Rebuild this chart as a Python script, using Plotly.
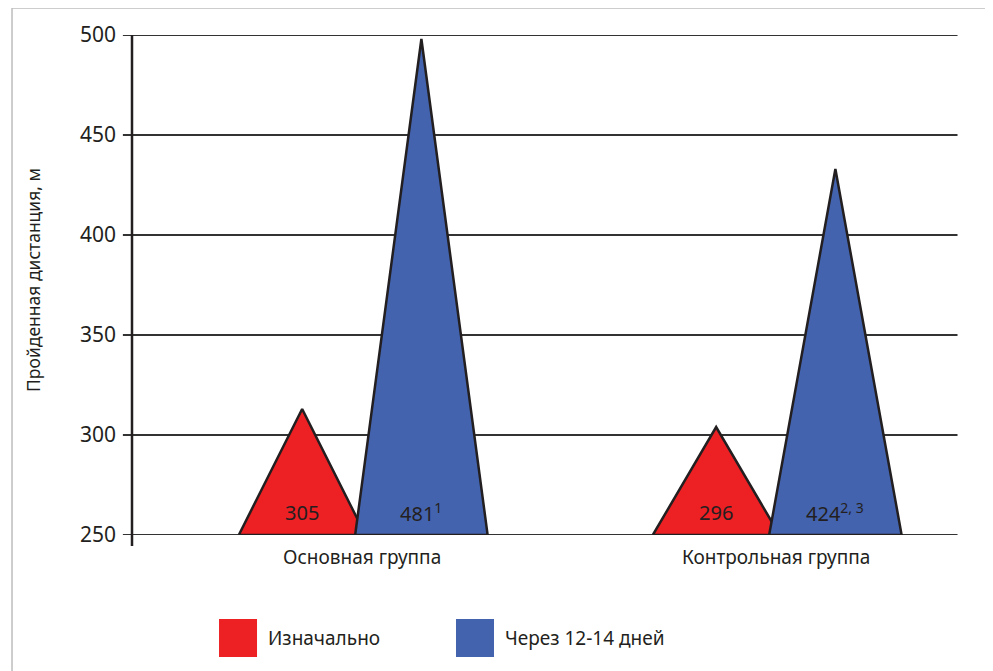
import plotly.graph_objects as go

# ---- data ----
categories = ["Основная группа", "Контрольная группа"]
series_names = ["Изначально", "Через 12-14 дней"]
# apex heights of the drawn triangles
initial_heights = [313, 304]
after_heights = [498, 433]
# printed values
initial_labels = ["305", "296"]
after_labels = ["481<sup>1</sup>", "424<sup>2, 3</sup>"]
y_ticks = [250, 300, 350, 400, 450, 500]

RED = "#ED2024"
BLUE = "#4363AE"
INK = "#231F20"
FONT = "Noto Sans"
BASE = 250

offsets = [-0.145, 0.143]
half_widths = [0.153, 0.160]

fig = go.Figure()

for gi, cat in enumerate(categories):
    for si, (heights, color) in enumerate([(initial_heights, RED), (after_heights, BLUE)]):
        c = gi + offsets[si]
        hw = half_widths[si]
        fig.add_trace(go.Scatter(
            x=[c - hw, c, c + hw, c - hw],
            y=[BASE, heights[gi], BASE, BASE],
            mode="lines", fill="toself", fillcolor=color,
            line=dict(color=INK, width=2.5),
            hoverinfo="skip", showlegend=False,
        ))

annotations = []
# value labels
for si, labels in enumerate([initial_labels, after_labels]):
    for gi, lab in enumerate(labels):
        annotations.append(dict(xref="x", yref="y", x=gi + offsets[si], y=261.5,
                                text=lab, showarrow=False, xanchor="center", yanchor="middle",
                                font=dict(family=FONT, size=20, color=INK)))

shapes = []
# frame
shapes.append(dict(type="rect", xref="paper", yref="paper",
                   x0=-0.1449, x1=1.0338, y0=-0.33, y1=1.054,
                   line=dict(color="#BDBDBD", width=1.5), layer="below"))
# y axis line (extends a bit below the base)
shapes.append(dict(type="line", xref="paper", yref="paper",
                   x0=0, x1=0, y0=-0.022, y1=1,
                   line=dict(color=INK, width=2.5)))
# gridlines incl. tick stubs
for t in y_ticks:
    shapes.append(dict(type="line", xref="paper", yref="y",
                       x0=-0.011, x1=0.997, y0=t, y1=t,
                       line=dict(color="#333333", width=2), layer="below"))

# legend squares
legend_x = [(0.1051, 0.151), (0.3913, 0.4372)]
for (x0, x1), color in zip(legend_x, [RED, BLUE]):
    shapes.append(dict(type="rect", xref="paper", yref="paper",
                       x0=x0, x1=x1, y0=-0.244, y1=-0.168,
                       fillcolor=color, line=dict(width=0)))

for (x0, x1), name in zip(legend_x, series_names):
    annotations.append(dict(xref="paper", yref="paper", x=x1 + 0.011, y=-0.206,
                            text=name, showarrow=False, xanchor="left", yanchor="middle",
                            font=dict(family=FONT, size=19, color=INK)))
annotations.append(dict(xref="paper", yref="paper", x=-0.1196, y=0.51,
                        text="Пройденная дистанция, м", textangle=-90, showarrow=False,
                        xanchor="center", yanchor="middle",
                        font=dict(family=FONT, size=17.5, color=INK)))
for gi, cat in enumerate(categories):
    annotations.append(dict(xref="x", yref="paper", x=gi, y=-0.044,
                            text=cat, showarrow=False, xanchor="center", yanchor="middle",
                            font=dict(family=FONT, size=19, color=INK)))

fig.update_layout(
    width=993, height=671,
    margin=dict(l=124, r=41, t=27, b=144),
    paper_bgcolor="white", plot_bgcolor="white",
    xaxis=dict(range=[-0.556, 1.444], showgrid=False, zeroline=False,
               showticklabels=False, showline=False, fixedrange=True),
    yaxis=dict(range=[BASE, 500], tickvals=y_ticks, showgrid=False, zeroline=False,
               showline=False, ticks="", ticklabelstandoff=15,
               tickfont=dict(family=FONT, size=21, color=INK), fixedrange=True),
    shapes=shapes, annotations=annotations, showlegend=False,
)

fig.write_html("out.html")
